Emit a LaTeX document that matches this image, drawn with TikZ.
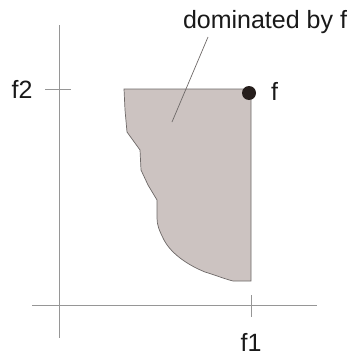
\documentclass[tikz,border=0pt]{standalone}
\usepackage{fontspec}
\setmainfont{Liberation Sans}
\definecolor{regfill}{RGB}{204,195,193}
\definecolor{regline}{RGB}{110,105,104}
\definecolor{axisgray}{RGB}{150,150,150}
\definecolor{dotcol}{RGB}{38,30,28}
\definecolor{txtcol}{RGB}{25,25,25}
\begin{document}
\begin{tikzpicture}[x=1pt,y=-1pt,
  axisline/.style={draw=axisgray,line width=1pt},
  lbl/.style={text=txtcol,font=\fontsize{25}{29}\selectfont,inner sep=0pt}]
\useasboundingbox (0,0) rectangle (352,356);
% axes
\draw[axisline] (59,25) -- (59,338);
\draw[axisline] (32,305) -- (317,305);
\draw[axisline] (251,295) -- (251,317);
\draw[axisline] (45,89) -- (71,89);
% region
\draw[fill=regfill,draw=regline,line width=0.7pt]
  (124,89) -- (251,89) -- (251,281) -- (233,281)
  .. controls (225,279) and (215,275) .. (205,272)
  .. controls (190,266) and (172,255) .. (164,240)
  .. controls (159,230) and (157,225) .. (157,218)
  -- (157,200) -- (148,185) -- (141,170) -- (140,150)
  -- (127,132) -- (125,110) -- cycle;
% dot
\node[circle,fill=dotcol,minimum size=14pt,inner sep=0pt] (f) at (249,93) {};
\node[lbl,anchor=west] (flbl) at (271,91) {f};
\node[lbl] (f1) at (251,342) {f1};
\node[lbl] (f2) at (22,89) {f2};
\node[lbl] (dom) at (265,22) {dominated by f};
\coordinate (inreg) at (172,122);
\draw[draw=regline,line width=0.7pt] (208,37) -- (inreg);
\end{tikzpicture}
\end{document}
